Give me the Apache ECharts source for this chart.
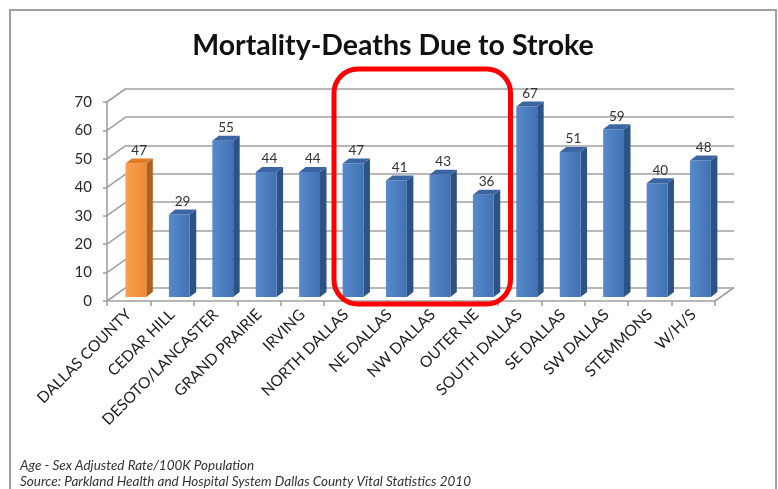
<!DOCTYPE html>
<html>
<head>
<meta charset="utf-8">
<script src="https://cdn.jsdelivr.net/npm/echarts@6/dist/echarts.min.js"></script>
<style>
  html, body { margin: 0; padding: 0; background: #ffffff; }
  #chart { width: 778px; height: 489px; }
</style>
</head>
<body>
<div id="chart"></div>
<script>
// Stroke mortality, age/sex adjusted rate per 100K population
const categories = [
  'DALLAS COUNTY', 'CEDAR HILL', 'DESOTO/LANCASTER', 'GRAND PRAIRIE', 'IRVING',
  'NORTH DALLAS', 'NE DALLAS', 'NW DALLAS', 'OUTER NE', 'SOUTH DALLAS',
  'SE DALLAS', 'SW DALLAS', 'STEMMONS', 'W/H/S'
];
const rates = [47, 29, 55, 44, 44, 47, 41, 43, 36, 67, 51, 59, 40, 48];
const countyTotal = ['DALLAS COUNTY'];
const yTicks = [0, 10, 20, 30, 40, 50, 60, 70];
const titleText = 'Mortality-Deaths Due to Stroke';
const noteLines = [
  'Age - Sex Adjusted Rate/100K Population',
  'Source: Parkland Health and Hospital System Dallas County Vital Statistics 2010'
];

// Pseudo-3D geometry: the back wall is the front plot plane pushed by (DX, DY)
const DX = 19, DY = -13.5;
const BAR_DX = 6.5, BAR_DY = -5;      // bar depth (side / top faces)
const BAR_SHIFT_Y = -4;               // bars stand slightly behind the front edge
const GRID_LINE = '#a0a0a0';

const chart = echarts.init(document.getElementById('chart'), null, { renderer: 'canvas' });

const palette = {
  blue:   { face: ['#5689cc', '#4272b3'], side: '#2d5283', top: '#3b66a3' },
  orange: { face: ['#fba04e', '#f08a35'], side: '#b3601c', top: '#e07a25' }
};

function renderBar(params, api) {
  const i = api.value(0), v = api.value(1);
  const p = api.coord([i, v]);
  const b = api.coord([i, 0]);
  const bw = api.size([1, 0])[0];
  const fw = bw * 0.48;
  const cx = p[0] + bw * 0.165;
  const xl = cx - fw / 2, xr = cx + fw / 2;
  const yt = p[1] + BAR_SHIFT_Y, yb = b[1] + BAR_SHIFT_Y;
  const c = countyTotal.includes(categories[i]) ? palette.orange : palette.blue;
  return {
    type: 'group',
    children: [
      {
        type: 'polygon',
        shape: { points: [[xr, yt], [xr + BAR_DX, yt + BAR_DY], [xr + BAR_DX, yb + BAR_DY], [xr, yb]] },
        style: { fill: c.side }
      },
      {
        type: 'rect',
        shape: { x: xl, y: yt, width: fw, height: yb - yt },
        style: {
          fill: new echarts.graphic.LinearGradient(0, 0, 1, 0, [
            { offset: 0, color: c.face[0] }, { offset: 1, color: c.face[1] }
          ])
        }
      },
      {
        type: 'polygon',
        shape: { points: [[xl, yt], [xr, yt], [xr + BAR_DX, yt + BAR_DY], [xl + BAR_DX, yt + BAR_DY]] },
        style: { fill: c.top }
      },
      {
        type: 'text',
        style: {
          text: String(v),
          x: cx + BAR_DX / 2,
          y: yt + BAR_DY - 1,
          align: 'center',
          verticalAlign: 'bottom',
          font: '13.5px Lato, "Open Sans", sans-serif',
          fill: '#333333'
        }
      }
    ]
  };
}

// Side wall gridlines (front edge -> back wall) plus floor right edge
function renderWall(params, api) {
  const v = api.value(0);
  const rect = params.coordSys;
  const y = api.coord([0, v])[1];
  const children = [{
    type: 'line',
    shape: { x1: rect.x, y1: y, x2: rect.x + DX, y2: y + DY },
    style: { stroke: GRID_LINE, lineWidth: 1.6 }
  }];
  if (v === 0) {
    children.push({
      type: 'line',
      shape: { x1: rect.x + rect.width, y1: y, x2: rect.x + rect.width + DX, y2: y + DY },
      style: { stroke: GRID_LINE, lineWidth: 1.6 }
    });
  }
  return { type: 'group', children };
}

const front = { left: 107, top: 102, width: 608, height: 199 };

const option = {
  backgroundColor: '#ffffff',
  animation: false,
  grid: [
    Object.assign({ outerBoundsMode: 'none', containLabel: false }, front),
    { outerBoundsMode: 'none', containLabel: false,
      left: front.left + DX, top: front.top + DY, width: front.width, height: front.height }
  ],
  xAxis: [
    {
      type: 'category', gridIndex: 0, data: categories,
      axisLine: { show: true, lineStyle: { color: GRID_LINE, width: 1.6 } },
      axisTick: { show: true, length: 5, lineStyle: { color: GRID_LINE, width: 1.6 } },
      axisLabel: {
        rotate: 45, margin: 11, interval: 0,
        fontFamily: 'Lato, "Open Sans", sans-serif', fontSize: 15.5, color: '#222222'
      }
    },
    { type: 'category', gridIndex: 1, data: categories, show: false }
  ],
  yAxis: [
    {
      type: 'value', gridIndex: 0, min: 0, max: 70, interval: 10,
      axisLine: { show: true, lineStyle: { color: GRID_LINE, width: 1.6 } },
      axisTick: { show: true, length: 4, lineStyle: { color: GRID_LINE, width: 1.6 } },
      splitLine: { show: false },
      axisLabel: {
        margin: 15, fontFamily: 'Lato, "Open Sans", sans-serif', fontSize: 15, color: '#2a2a2a'
      }
    },
    {
      type: 'value', gridIndex: 1, min: 0, max: 70, interval: 10,
      axisLine: { show: false }, axisTick: { show: false }, axisLabel: { show: false },
      splitLine: { show: true, lineStyle: { color: GRID_LINE, width: 1.6 } }
    }
  ],
  series: [
    {
      type: 'custom', xAxisIndex: 0, yAxisIndex: 0,
      renderItem: renderWall,
      data: yTicks.map(t => [t]),
      encode: { y: 0 },
      silent: true, z: 1
    },
    {
      type: 'custom', xAxisIndex: 0, yAxisIndex: 0,
      renderItem: renderBar,
      data: rates.map((r, i) => [i, r]),
      encode: { x: 0, y: 1 },
      z: 3
    }
  ],
  graphic: [
    {
      type: 'rect', silent: true, z: 0,
      shape: { x: 10, y: 10, width: 766, height: 500 },
      style: { fill: 'none', stroke: '#a0a0a0', lineWidth: 2 }
    },
    {
      type: 'text', z: 10,
      x: 393, y: 46,
      style: {
        text: titleText, align: 'center', verticalAlign: 'middle',
        font: 'bold 28.5px Lato, "Open Sans", sans-serif', fill: '#111111'
      }
    },
    {
      type: 'rect', z: 10, silent: true,
      shape: { x: 334, y: 69, width: 176.5, height: 235, r: 24 },
      style: { fill: 'none', stroke: '#ff0000', lineWidth: 5 }
    },
    {
      type: 'text', z: 10, x: 20, y: 466,
      style: {
        text: noteLines[0], verticalAlign: 'middle',
        font: 'italic 13.5px Lato, "Open Sans", sans-serif', fill: '#333333'
      }
    },
    {
      type: 'text', z: 10, x: 20, y: 482,
      style: {
        text: noteLines[1], verticalAlign: 'middle',
        font: 'italic 13.5px Lato, "Open Sans", sans-serif', fill: '#333333'
      }
    }
  ]
};

chart.setOption(option);
</script>
</body>
</html>
